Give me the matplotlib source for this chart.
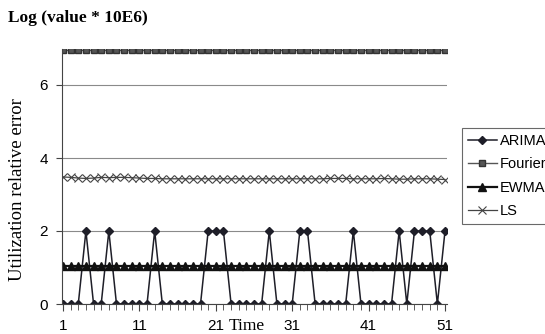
import matplotlib.pyplot as plt
from matplotlib.ticker import FixedLocator

time = list(range(1, 52))
arima_peaks = [4, 7, 13, 20, 21, 22, 28, 32, 33, 39, 45, 47, 48, 49, 51]
arima = [2 if t in arima_peaks else 0 for t in time]
fourier = [6.95] * 51
ewma = [1.05] * 51
ls = [3.48, 3.47, 3.45, 3.44, 3.45, 3.47, 3.46, 3.47, 3.47, 3.46, 3.45, 3.44, 3.44,
      3.43, 3.43, 3.43, 3.43, 3.43, 3.43, 3.43, 3.43, 3.43, 3.43, 3.43, 3.43, 3.43,
      3.43, 3.43, 3.43, 3.43, 3.43, 3.43, 3.43, 3.43, 3.43, 3.44, 3.44, 3.44, 3.43,
      3.43, 3.43, 3.43, 3.44, 3.43, 3.42, 3.42, 3.43, 3.43, 3.43, 3.42, 3.41]
xticks = [1, 11, 21, 31, 41, 51]
yticks = [0, 2, 4, 6]

sans = 'Liberation Sans'
serif = 'Liberation Serif'

fig = plt.figure(figsize=(5.45, 3.34), dpi=100)
ax = fig.add_axes([62 / 545, 1 - 304 / 334, 385 / 545, 255.5 / 334])

ax.plot(time, arima, color='#1e1e28', lw=1.1, marker='D', ms=4.5, label='ARIMA')
ax.plot(time, fourier, color='#555555', lw=1.0, marker='s', ms=5,
        markeredgecolor='#333333', label='Fourier')
ax.plot(time, ewma, color='#111111', lw=1.6, marker='^', ms=5.5, label='EWMA')
ax.plot(time, ls, color='#444444', lw=0.9, marker='x', ms=5.5, mew=0.8, label='LS')

ax.set_xlim(0.87, 51.26)
ax.set_ylim(0, 7)
ax.set_xticks(xticks)
ax.xaxis.set_minor_locator(FixedLocator(time))
ax.set_yticks(yticks)
ax.yaxis.grid(True, color='#8a8a8a', lw=0.8)
ax.set_axisbelow(True)
ax.spines['top'].set_visible(False)
ax.spines['right'].set_visible(False)
ax.spines['left'].set_color('#444444')
ax.spines['bottom'].set_color('#444444')
ax.tick_params(axis='x', which='major', length=5, labelsize=11, pad=6, color='#444444')
ax.tick_params(axis='x', which='minor', length=4, color='#444444')
ax.tick_params(axis='y', length=4, labelsize=11, pad=6, color='#444444')
for lab in ax.get_xticklabels() + ax.get_yticklabels():
    lab.set_fontfamily(sans)

fig.text(247 / 545, 1 - 326 / 334, 'Time', family=serif, fontsize=12.5,
         ha='center', va='center')
fig.text(18 / 545, 1 - 190 / 334, 'Utilization relative error', family=serif,
         fontsize=13.5, rotation=90, ha='center', va='center')
fig.text(8 / 545, 1 - 18 / 334, 'Log (value * 10E6)', family=serif,
         fontsize=12.5, fontweight='bold', ha='left', va='center')

leg = fig.legend(loc='upper left', bbox_to_anchor=(462 / 545, 1 - 128 / 334),
                 prop={'family': sans, 'size': 10.5}, frameon=True, fancybox=False,
                 edgecolor='#444444', handlelength=2.0, handletextpad=0.2,
                 labelspacing=0.65, borderpad=0.4, borderaxespad=0)
leg.get_frame().set_linewidth(0.8)

fig.savefig('out.png', dpi=100)
